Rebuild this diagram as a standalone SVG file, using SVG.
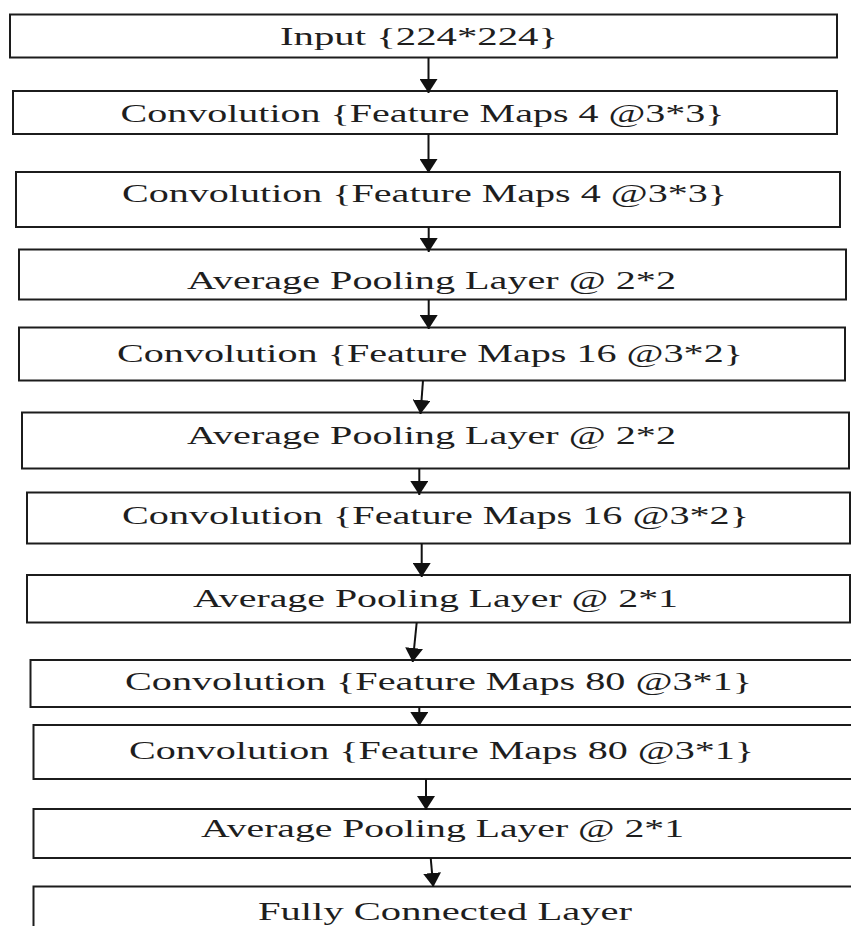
<svg xmlns="http://www.w3.org/2000/svg" width="851" height="926" viewBox="0 0 851 926">
<style>
.box{fill:#fff;stroke:#1c1c1c;stroke-width:2}
.lbl{font-family:"Liberation Serif","Times New Roman",serif;font-size:25px;fill:#1e1e1e}
.con{stroke:#111;stroke-width:2;fill:none;marker-end:url(#ah)}
</style>
<defs>
<marker id="ah" viewBox="0 0 14 18" markerWidth="14" markerHeight="18" refX="14" refY="9" orient="auto" markerUnits="userSpaceOnUse">
<path d="M0,0 L14,9 L0,18 z" fill="#111"/>
</marker>
</defs>
<rect width="851" height="926" fill="#fff"/>
<g id="n1"><rect class="box" x="10" y="14.5" width="827" height="43"/><text class="lbl" x="280" y="45" textLength="278" lengthAdjust="spacingAndGlyphs">Input {224*224}</text></g>
<g id="n2"><rect class="box" x="13" y="91" width="824" height="43"/><text class="lbl" x="120.5" y="122" textLength="604" lengthAdjust="spacingAndGlyphs">Convolution {Feature Maps 4 @3*3}</text></g>
<g id="n3"><rect class="box" x="16" y="172" width="824" height="55"/><text class="lbl" x="122" y="201.5" textLength="605" lengthAdjust="spacingAndGlyphs">Convolution {Feature Maps 4 @3*3}</text></g>
<g id="n4"><rect class="box" x="19" y="249.5" width="827" height="50"/><text class="lbl" x="187" y="289" textLength="489" lengthAdjust="spacingAndGlyphs">Average Pooling Layer @ 2*2</text></g>
<g id="n5"><rect class="box" x="19" y="327.5" width="826" height="53"/><text class="lbl" x="117" y="361.5" textLength="626" lengthAdjust="spacingAndGlyphs">Convolution {Feature Maps 16 @3*2}</text></g>
<g id="n6"><rect class="box" x="22" y="412.5" width="827" height="56"/><text class="lbl" x="187" y="443.5" textLength="489" lengthAdjust="spacingAndGlyphs">Average Pooling Layer @ 2*2</text></g>
<g id="n7"><rect class="box" x="27" y="492.5" width="823" height="51"/><text class="lbl" x="122" y="524" textLength="627" lengthAdjust="spacingAndGlyphs">Convolution {Feature Maps 16 @3*2}</text></g>
<g id="n8"><rect class="box" x="27" y="575" width="823" height="47.5"/><text class="lbl" x="193" y="606.5" textLength="485" lengthAdjust="spacingAndGlyphs">Average Pooling Layer @ 2*1</text></g>
<g id="n9"><rect class="box" x="30.5" y="660" width="822" height="47"/><text class="lbl" x="125" y="690" textLength="627" lengthAdjust="spacingAndGlyphs">Convolution {Feature Maps 80 @3*1}</text></g>
<g id="n10"><rect class="box" x="33.5" y="725" width="820" height="54"/><text class="lbl" x="129" y="758.5" textLength="625" lengthAdjust="spacingAndGlyphs">Convolution {Feature Maps 80 @3*1}</text></g>
<g id="n11"><rect class="box" x="33.5" y="809" width="820" height="49"/><text class="lbl" x="201" y="836.5" textLength="483" lengthAdjust="spacingAndGlyphs">Average Pooling Layer @ 2*1</text></g>
<g id="n12"><rect class="box" x="33.5" y="886.5" width="820" height="50"/><text class="lbl" x="258" y="920" textLength="374" lengthAdjust="spacingAndGlyphs">Fully Connected Layer</text></g>
<g id="connectors">
<line class="con" x1="428.5" y1="57.5" x2="428.5" y2="93"/>
<line class="con" x1="428.5" y1="134" x2="428.5" y2="173"/>
<line class="con" x1="428.7" y1="227" x2="428.7" y2="252"/>
<line class="con" x1="428.7" y1="299.5" x2="428.7" y2="329"/>
<line class="con" x1="423" y1="380.5" x2="420.5" y2="414"/>
<line class="con" x1="419.3" y1="468.5" x2="419.3" y2="495"/>
<line class="con" x1="421.7" y1="543.5" x2="421.7" y2="577"/>
<line class="con" x1="416.7" y1="622.5" x2="412.7" y2="662"/>
<line class="con" x1="419.3" y1="707" x2="419.3" y2="726"/>
<line class="con" x1="426" y1="779" x2="426" y2="810"/>
<line class="con" x1="430.7" y1="858" x2="433.3" y2="887"/>
</g>
</svg>
